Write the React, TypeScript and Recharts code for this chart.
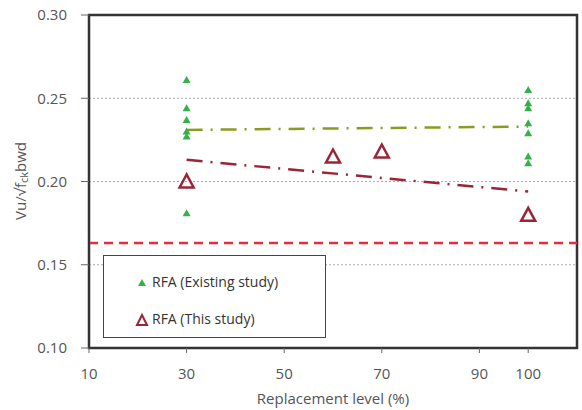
import {
  CartesianGrid,
  ReferenceArea,
  ReferenceLine,
  Scatter,
  ScatterChart,
  XAxis,
  YAxis,
} from 'recharts';

// Existing study (RFA)
const existingX = [30, 30, 30, 30, 30, 30, 100, 100, 100, 100, 100, 100, 100];
const existingY = [0.261, 0.244, 0.237, 0.230, 0.227, 0.181, 0.255, 0.247, 0.244, 0.235, 0.229, 0.215, 0.211];

// This study (RFA)
const thisX = [30, 60, 70, 100];
const thisY = [0.2, 0.215, 0.218, 0.18];

// trend lines (end points)
const trendX = [30, 100];
const existingTrendY = [0.231, 0.233];
const thisTrendY = [0.213, 0.194];

const limitValue = 0.163;

const xTicks = [10, 30, 50, 70, 90, 100];
const yTicks = [0.1, 0.15, 0.2, 0.25, 0.3];

const existingData = existingX.map((x, i) => ({ x, y: existingY[i] }));
const thisData = thisX.map((x, i) => ({ x, y: thisY[i] }));
const existingTrend = trendX.map((x, i) => ({ x, y: existingTrendY[i] }));
const thisTrend = trendX.map((x, i) => ({ x, y: thisTrendY[i] }));

const GREEN = '#35b04a';
const BROWN = '#9a2536';
const OLIVE = '#8c9a22';
const FONT = '"Open Sans", "Noto Sans", sans-serif';

const SmallTriangle = (props: any) => {
  const { cx, cy } = props;
  return <polygon points={`${cx},${cy - 4} ${cx - 4},${cy + 3} ${cx + 4},${cy + 3}`} fill={GREEN} />;
};

const OpenTriangle = (props: any) => {
  const { cx, cy } = props;
  return (
    <polygon
      points={`${cx},${cy - 7} ${cx - 7},${cy + 6} ${cx + 7},${cy + 6}`}
      fill="none"
      stroke={BROWN}
      strokeWidth={2.5}
    />
  );
};

const NoDot = () => null;

const YLabel = () => (
  <text x={20} y={181} transform="rotate(-90 20 181)" textAnchor="middle" dominantBaseline="central" fontSize={15} fill="#555" fontFamily={FONT}>
    Vu/√f
    <tspan fontSize={11} dy={3}>ck</tspan>
    <tspan dy={-3}>bwd</tspan>
  </text>
);

const LegendBox = () => (
  <div
    style={{
      position: 'absolute',
      left: 103,
      top: 255,
      width: 221,
      height: 81,
      border: '1.5px solid #444',
      background: '#fff',
      fontFamily: FONT,
      fontSize: 14,
      color: '#333',
    }}
  >
    <svg width={10} height={10} style={{ position: 'absolute', left: 33, top: 22 }}>
      <polygon points="5,1 1,8 9,8" fill={GREEN} />
    </svg>
    <span style={{ position: 'absolute', left: 48, top: 16 }}>RFA (Existing study)</span>
    <svg width={14} height={14} style={{ position: 'absolute', left: 31, top: 57 }}>
      <polygon points="7,2 2,12 12,12" fill="none" stroke={BROWN} strokeWidth={2} />
    </svg>
    <span style={{ position: 'absolute', left: 48, top: 53 }}>RFA (This study)</span>
  </div>
);

export default function App() {
  return (
    <div style={{ position: 'absolute', left: 0, top: 0, width: 582, height: 410, background: '#fff' }}>
      <ScatterChart width={582} height={410} margin={{ top: 15, right: 5, bottom: 22, left: 29 }}>
        <CartesianGrid vertical={false} stroke="#aaa" strokeDasharray="2 2" />
        <XAxis
          type="number"
          dataKey="x"
          domain={[10, 110]}
          ticks={xTicks}
          height={40}
          tickSize={5}
          tickMargin={15}
          axisLine={{ stroke: '#333', strokeWidth: 2 }}
          tickLine={{ stroke: '#666' }}
          tick={{ fontSize: 15, fill: '#555', fontFamily: FONT }}
          label={{ value: 'Replacement level (%)', position: 'insideBottom', offset: -16, fontSize: 15, fill: '#555', fontFamily: FONT }}
        />
        <YAxis
          type="number"
          dataKey="y"
          domain={[0.1, 0.3]}
          ticks={yTicks}
          width={60}
          tickSize={8}
          tickMargin={14}
          tickFormatter={(v: number) => v.toFixed(2)}
          axisLine={{ stroke: '#333', strokeWidth: 2 }}
          tickLine={{ stroke: '#666' }}
          tick={{ fontSize: 15, fill: '#555', fontFamily: FONT }}
          label={<YLabel />}
        />
        <ReferenceArea x1={10} x2={110} y1={0.1} y2={0.3} fill="none" stroke="#333" strokeWidth={2.5} />
        <ReferenceLine y={limitValue} stroke="#f0283c" strokeWidth={2.5} strokeDasharray="9 6" />
        <Scatter name="existingTrend" data={existingTrend} line={{ stroke: OLIVE, strokeWidth: 2.5, strokeDasharray: '16 8 2 8' }} shape={NoDot} isAnimationActive={false} legendType="none" />
        <Scatter name="thisTrend" data={thisTrend} line={{ stroke: BROWN, strokeWidth: 2.5, strokeDasharray: '16 8 2 8' }} shape={NoDot} isAnimationActive={false} legendType="none" />
        <Scatter name="RFA (Existing study)" data={existingData} shape={SmallTriangle} isAnimationActive={false} />
        <Scatter name="RFA (This study)" data={thisData} shape={OpenTriangle} isAnimationActive={false} />
      </ScatterChart>
      <LegendBox />
    </div>
  );
}
